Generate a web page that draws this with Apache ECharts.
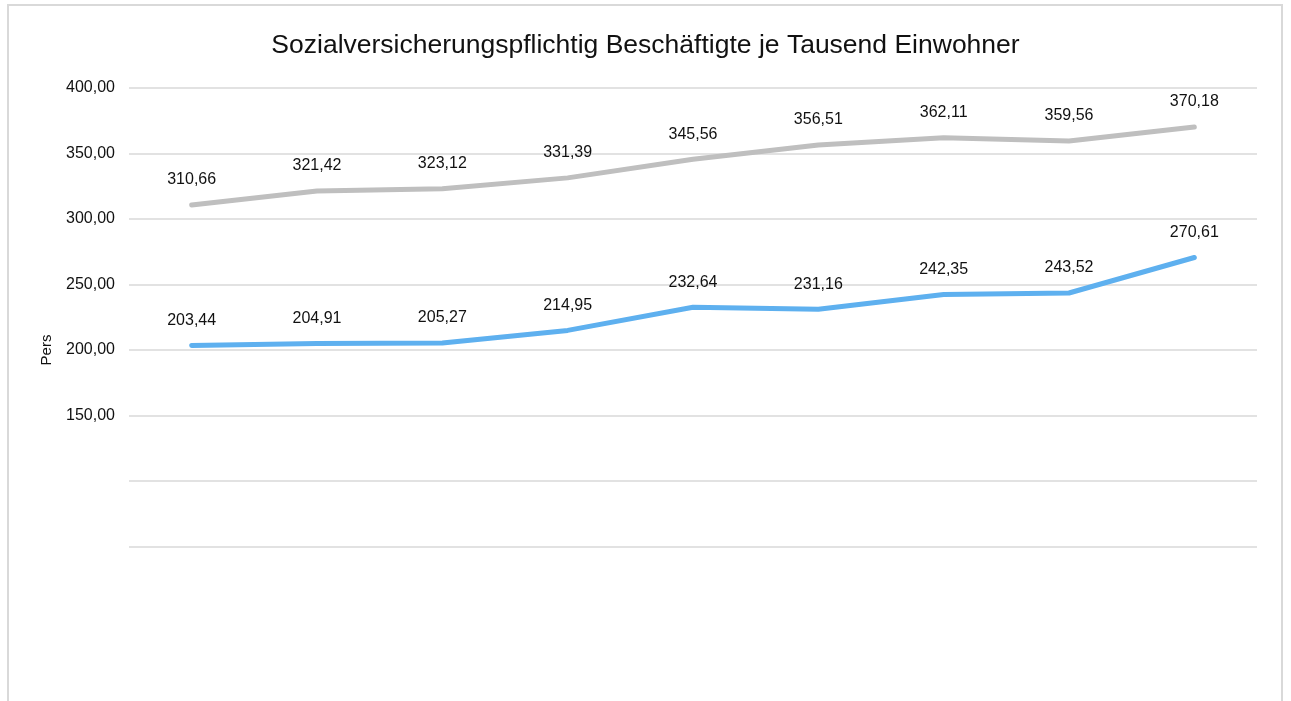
<!DOCTYPE html>
<html>
<head>
<meta charset="utf-8">
<script src="https://cdn.jsdelivr.net/npm/echarts@6/dist/echarts.min.js"></script>
<style>
  html, body { margin: 0; padding: 0; background: #fff; overflow: hidden; }
  #frame { position: absolute; left: 7px; top: 4px; width: 1276px; height: 760px; border: 2px solid #d9d9d9; box-sizing: border-box; }
  #containerg { position: absolute; left: 0; top: 0; width: 1291px; height: 701px; }
</style>
</head>
<body>
<div id="frame"></div>
<div id="containerg"></div>
<script>
var jahre = ['2012', '2013', '2014', '2015', '2016', '2017', '2018', '2019', '2020'];
var reiheGrau = [310.66, 321.42, 323.12, 331.39, 345.56, 356.51, 362.11, 359.56, 370.18];
var reiheBlau = [203.44, 204.91, 205.27, 214.95, 232.64, 231.16, 242.35, 243.52, 270.61];

function fmt(v) {
    return v.toFixed(2).replace('.', ',');
}

var dom = document.getElementById('containerg');
var myChart = echarts.init(dom);

var lbl = {
    show: true,
    position: 'top',
    distance: 17,
    fontFamily: 'Liberation Sans, Arial',
    fontSize: 16,
    color: '#111',
    formatter: function (p) { return fmt(p.value); }
};

var option = {
    animation: false,
    textStyle: { fontFamily: 'Liberation Sans, Arial' },
    title: {
        text: 'Sozialversicherungspflichtig Beschäftigte je Tausend Einwohner',
        left: 'center',
        top: 27,
        textStyle: { fontSize: 26.5, fontWeight: 'normal', color: '#111', fontFamily: 'Liberation Sans, Arial' }
    },
    grid: { left: 129, right: 34, top: 88, bottom: 89 },
    xAxis: {
        type: 'category',
        data: jahre,
        boundaryGap: true,
        axisLine: { show: false },
        axisTick: { show: false },
        axisLabel: { show: false }
    },
    yAxis: {
        type: 'value',
        min: 0,
        max: 400,
        interval: 50,
        name: 'Pers',
        nameLocation: 'middle',
        nameGap: 75,
        nameTextStyle: { fontSize: 15, color: '#111', fontFamily: 'Liberation Sans, Arial' },
        axisLine: { show: false },
        axisTick: { show: false },
        axisLabel: {
            fontSize: 16,
            color: '#111',
            margin: 14,
            formatter: function (v) { return v < 150 ? '' : fmt(v); }
        },
        splitLine: { showMinLine: false, lineStyle: { color: '#d9d9d9', width: 1.5 } }
    },
    series: [
        {
            name: 'Grau',
            type: 'line',
            data: reiheGrau,
            symbol: 'circle',
            symbolSize: 0.1,
            lineStyle: { color: '#bfbfbf', width: 5, cap: 'round' },
            itemStyle: { color: '#bfbfbf' },
            label: lbl
        },
        {
            name: 'Blau',
            type: 'line',
            data: reiheBlau,
            symbol: 'circle',
            symbolSize: 0.1,
            lineStyle: { color: '#5eb0ef', width: 5, cap: 'round' },
            itemStyle: { color: '#5eb0ef' },
            label: lbl
        }
    ]
};

myChart.setOption(option);
</script>
</body>
</html>
